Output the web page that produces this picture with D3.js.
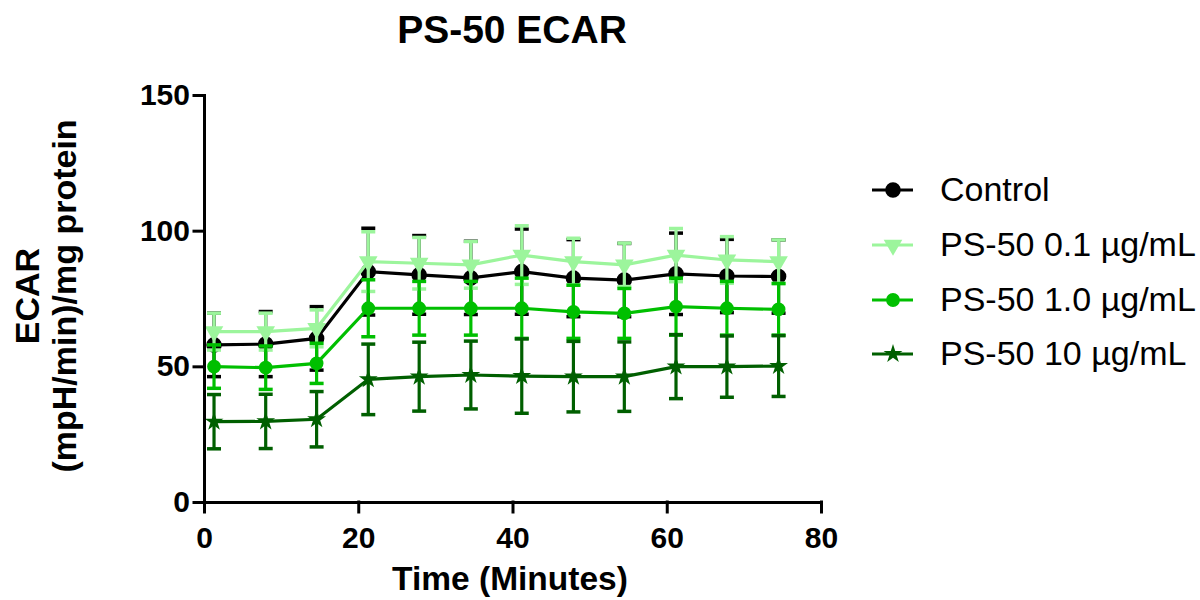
<!DOCTYPE html>
<html><head><meta charset="utf-8">
<script src="https://cdn.jsdelivr.net/npm/d3@7"></script>
<style>body{margin:0;background:#fff;} text{font-family:"Liberation Sans",Arial,sans-serif;}</style>
</head><body><svg id="c" width="1200" height="600"></svg>
<script>
const times = [1.3, 8.0, 14.6, 21.3, 27.9, 34.6, 41.2, 47.9, 54.5, 61.2, 67.8, 74.5];
const seriesNames = ["Control", "PS-50 0.1 µg/mL", "PS-50 1.0 µg/mL", "PS-50 10 µg/mL"];
const control   = [57.9, 58.2, 60.3, 84.9, 83.7, 82.6, 84.9, 82.5, 81.8, 84.1, 83.3, 83.1];
const controlSD = [11.7, 12.0, 11.7, 16.0, 14.5, 13.5, 15.7, 14.2, 13.5, 15.0, 13.5, 13.5];
const ps01      = [62.8, 62.8, 64.0, 88.6, 88.0, 87.4, 91.0, 88.6, 87.4, 91.0, 89.2, 88.6];
const ps01SD    = [6.8, 6.8, 6.8, 11.0, 9.5, 8.6, 10.8, 8.6, 8.0, 9.8, 8.6, 8.0];
const ps10      = [49.9, 49.5, 51.1, 71.4, 71.4, 71.4, 71.4, 70.1, 69.5, 72.0, 71.4, 71.0];
const ps10SD    = [8.0, 8.0, 7.4, 10.5, 9.9, 9.9, 11.1, 9.8, 9.2, 10.5, 9.9, 9.5];
const ps100     = [29.6, 29.7, 30.5, 45.2, 46.2, 46.8, 46.4, 46.2, 46.2, 49.9, 49.9, 50.1];
const ps100SD   = [10.0, 10.0, 10.2, 13.0, 12.7, 12.5, 13.7, 13.0, 12.8, 11.8, 11.3, 11.2];
const xTicks = [0, 20, 40, 60, 80];
const yTicks = [0, 50, 100, 150];

const colors = ["#000000", "#9cf59c", "#00bf00", "#005f00"];
const symbols = [d3.symbolCircle, d3.symbolTriangle, d3.symbolCircle, d3.symbolStar];
const symSizes = [190, 150, 150, 110];
const symRot = [0, 180, 0, 0];
const means = [control, ps01, ps10, ps100];
const sds = [controlSD, ps01SD, ps10SD, ps100SD];

const svg = d3.select("#c");
const x = d3.scaleLinear().domain([0, 80]).range([204, 821]);
const y = d3.scaleLinear().domain([0, 150]).range([502, 95]);

// title
svg.append("text").attr("x", 512).attr("y", 43).attr("text-anchor", "middle")
  .attr("font-size", 39).attr("font-weight", "bold").text("PS-50 ECAR");

// series
means.forEach((vals, si) => {
  const g = svg.append("g");
  const col = colors[si];
  const data = times.map((t, i) => ({t, v: vals[i], sd: sds[si][i]}));
  data.forEach(d => {
    g.append("line").attr("x1", x(d.t)).attr("x2", x(d.t))
      .attr("y1", y(d.v + d.sd)).attr("y2", y(d.v - d.sd))
      .attr("stroke", col).attr("stroke-width", 3.2);
    [d.v + d.sd, d.v - d.sd].forEach(e => {
      g.append("line").attr("x1", x(d.t) - 7).attr("x2", x(d.t) + 7)
        .attr("y1", y(e)).attr("y2", y(e)).attr("stroke", col).attr("stroke-width", 3.5);
    });
  });
  g.append("path").datum(data)
    .attr("d", d3.line().x(d => x(d.t)).y(d => y(d.v)))
    .attr("fill", "none").attr("stroke", col).attr("stroke-width", 3.2);
  g.selectAll(".m").data(data).enter().append("path")
    .attr("d", d3.symbol().type(symbols[si]).size(symSizes[si]))
    .attr("transform", d => `translate(${x(d.t)},${y(d.v)}) rotate(${symRot[si]})`)
    .attr("fill", col);
});

// axes
const xAxis = svg.append("g").attr("transform", "translate(0,502)")
  .call(d3.axisBottom(x).tickValues(xTicks).tickSize(10).tickSizeOuter(0).tickPadding(15));
const yAxis = svg.append("g").attr("transform", "translate(204,0)")
  .call(d3.axisLeft(y).tickValues(yTicks).tickSize(10).tickSizeOuter(0).tickPadding(4));
[xAxis, yAxis].forEach(a => {
  a.selectAll("path,line").attr("stroke", "#000").attr("stroke-width", 3).attr("stroke-linecap", "square");
  a.selectAll("text").attr("font-size", 30).attr("font-weight", "bold").attr("fill", "#000")
    .attr("font-family", "Liberation Sans, Arial, sans-serif");
});

// axis titles
svg.append("text").attr("x", 510).attr("y", 590).attr("text-anchor", "middle")
  .attr("font-size", 33.5).attr("font-weight", "bold").text("Time (Minutes)");
const yt = svg.append("text").attr("transform", "translate(0,296) rotate(-90)")
  .attr("text-anchor", "middle").attr("font-size", 34).attr("font-weight", "bold");
yt.append("tspan").attr("x", 0).attr("y", 39).text("ECAR");
yt.append("tspan").attr("x", 0).attr("y", 76).text("(mpH/min)/mg protein");

// legend
const legY = [190, 245, 300, 354];
seriesNames.forEach((name, si) => {
  const g = svg.append("g").attr("transform", `translate(0,${legY[si]})`);
  g.append("line").attr("x1", 872).attr("x2", 913).attr("y1", 0).attr("y2", 0)
    .attr("stroke", colors[si]).attr("stroke-width", 3.2);
  g.append("path").attr("d", d3.symbol().type(symbols[si]).size(symSizes[si]))
    .attr("transform", `translate(893,0) rotate(${symRot[si]})`).attr("fill", colors[si]);
  g.append("text").attr("x", 940).attr("y", 11).attr("font-size", 34).text(name);
});
</script></body></html>
